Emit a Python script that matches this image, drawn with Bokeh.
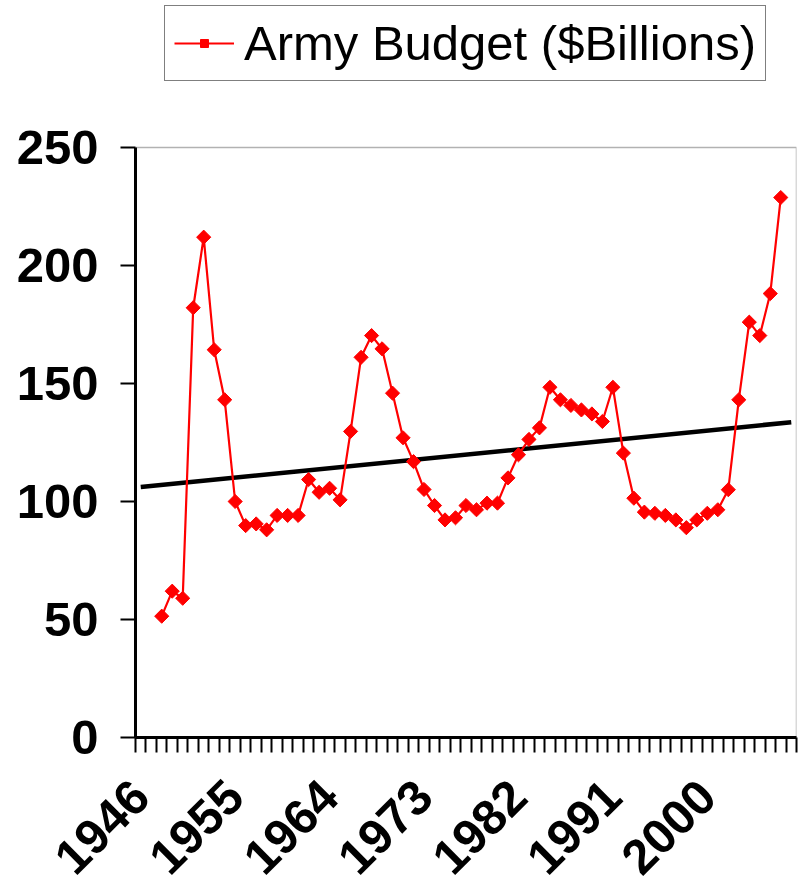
import math
from bokeh.plotting import figure
from bokeh.models import FixedTicker, Range1d, Legend, LegendItem, BoxAnnotation
from bokeh.embed import file_html
from bokeh.resources import INLINE

# ---- data ----
years = list(range(1948, 2008))
budget = [
    51.4, 62.0, 59.0, 182.1, 212.0, 164.3, 143.1, 100.0, 89.8, 90.5,
    88.0, 94.1, 94.1, 94.1, 109.3, 103.9, 105.6, 100.7, 129.7, 161.1,
    170.3, 164.7, 145.9, 127.0, 116.9, 105.1, 98.3, 92.2, 93.1, 98.3,
    96.5, 99.3, 99.3, 110.0, 119.8, 126.3, 131.2, 148.4, 143.1, 140.7,
    138.8, 137.1, 133.9, 148.4, 120.5, 101.4, 95.5, 95.0, 94.1, 92.2,
    88.9, 92.2, 95.0, 96.5, 105.0, 143.1, 176.0, 170.3, 188.1, 228.8,
]
trend_years = [1946, 2008]
trend_values = [106.1, 133.6]
label_years = [1946, 1955, 1964, 1973, 1982, 1991, 2000]
y_ticks = [0, 50, 100, 150, 200, 250]
y_max = 250
first_cat, last_cat = 1946, 2008

FONT = "Liberation Sans"

# layout (pixels): plot area spans y 147..737; the frame reaches the top of the
# canvas so the legend above the plot area can live inside it
W, H = 800, 893
AREA_TOP, AREA_BOTTOM = 147, 737
frame_top_value = y_max * AREA_BOTTOM / (AREA_BOTTOM - AREA_TOP)

x_start, x_end = first_cat - 0.5, last_cat + 0.5
p = figure(width=W, height=H, output_backend="svg", toolbar_location=None,
           x_range=Range1d(x_start, x_end), y_range=Range1d(0, frame_top_value),
           min_border_left=135, min_border_right=4, min_border_top=0,
           min_border_bottom=H - AREA_BOTTOM)
p.background_fill_color = "white"
p.border_fill_color = "white"
p.xgrid.visible = False
p.ygrid.visible = False
p.outline_line_color = None

# plot-area border
p.add_layout(BoxAnnotation(left=x_start, right=x_end, bottom=0, top=y_max,
                           fill_color=None, line_color="black", line_width=1.5,
                           level="underlay"))

trend_r = p.line(trend_years, trend_values, line_color="black", line_width=4.5)
line_r = p.line(years, budget, line_color="#ff0000", line_width=2.2)
pts_r = p.scatter(years, budget, marker="square", angle=math.pi / 4, size=10,
                  fill_color="#ff0000", line_color="#ff0000")

# x axis: category boundaries as minor ticks, labels every 9 years
xa = p.xaxis[0]
xa.ticker = FixedTicker(ticks=label_years,
                        minor_ticks=[x_start + k for k in range(last_cat - first_cat + 2)])
xa.major_label_overrides = {y: str(y) for y in label_years}
xa.major_tick_out = 0
xa.major_tick_in = 0
xa.minor_tick_out = 15
xa.minor_tick_in = 0
xa.minor_tick_line_width = 2
xa.minor_tick_line_color = "black"
xa.axis_line_width = 3
xa.axis_line_color = "black"
xa.major_label_orientation = math.pi / 4
xa.major_label_text_font = FONT
xa.major_label_text_font_style = "bold"
xa.major_label_text_font_size = "49px"
xa.major_label_text_color = "black"
xa.major_label_standoff = 36

ya = p.yaxis[0]
ya.ticker = FixedTicker(ticks=y_ticks)
ya.bounds = (0, y_max)
ya.major_tick_out = 15
ya.major_tick_in = 0
ya.minor_tick_out = 0
ya.minor_tick_in = 0
ya.major_tick_line_width = 2
ya.major_tick_line_color = "black"
ya.axis_line_width = 3
ya.axis_line_color = "black"
ya.major_label_text_font = FONT
ya.major_label_text_font_style = "bold"
ya.major_label_text_font_size = "49px"
ya.major_label_text_color = "black"
ya.major_label_standoff = 22

legend = Legend(items=[LegendItem(label="Army Budget ($Billions)", renderers=[line_r, pts_r])],
                location=(29, AREA_BOTTOM - 81), border_line_color="black", border_line_width=1.5,
                label_text_font=FONT, label_text_font_size="49px", label_text_color="black",
                glyph_width=60, glyph_height=20, padding=9, margin=0,
                label_standoff=10, background_fill_color="white", background_fill_alpha=1)
p.add_layout(legend, "center")

open("out.html", "w").write(file_html(p, INLINE))
